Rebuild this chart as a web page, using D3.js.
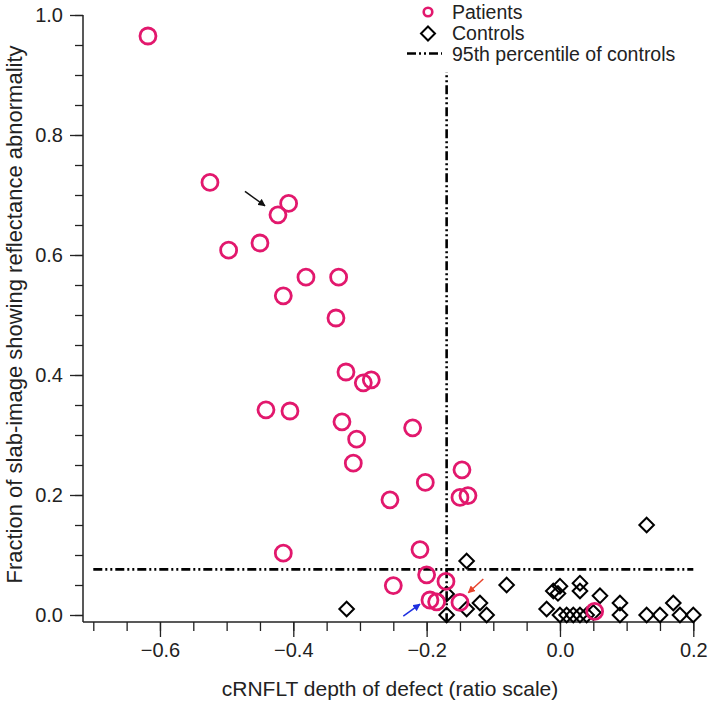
<!DOCTYPE html>
<html>
<head>
<meta charset="utf-8">
<script src="https://cdn.jsdelivr.net/npm/d3@7"></script>
<style>
  body { margin: 0; background: #fff; }
  svg text { font-family: "Liberation Sans", Arial, sans-serif; fill: #222; }
</style>
</head>
<body>
<div id="chart"></div>
<script>
// Patients (circles)
const patientX = [-0.618, -0.525, -0.423, -0.407, -0.450, -0.497,
    -0.381, -0.332, -0.415, -0.336, -0.321, -0.295, -0.283,
    -0.441, -0.405, -0.327, -0.305, -0.310, -0.221, -0.202,
    -0.255, -0.147, -0.150, -0.138, -0.415, -0.210, -0.200,
    -0.250, -0.171, -0.195, -0.185, -0.150, 0.052];
const patientY = [0.965, 0.721, 0.667, 0.686, 0.620, 0.608,
    0.563, 0.563, 0.532, 0.495, 0.405, 0.387, 0.392,
    0.342, 0.340, 0.322, 0.293, 0.253, 0.312, 0.221,
    0.192, 0.242, 0.196, 0.199, 0.103, 0.109, 0.067,
    0.049, 0.056, 0.025, 0.022, 0.021, 0.006];

// Controls (diamonds)
const controlX = [-0.32, -0.17, -0.17, -0.14, -0.14, -0.12, -0.11, -0.08,
    -0.02, -0.01, -0.003, 0.0, 0.0, 0.01, 0.02, 0.03, 0.04, 0.05,
    0.03, 0.03, 0.06, 0.09, 0.09, 0.13, 0.13, 0.15, 0.17, 0.18, 0.2];
const controlY = [0.010, 0.000, 0.035, 0.090, 0.010, 0.020, 0.000, 0.050,
    0.010, 0.040, 0.036, 0.048, 0.000, 0.000, 0.000, 0.000, 0.000, 0.004,
    0.053, 0.040, 0.032, 0.020, 0.000, 0.000, 0.150, 0.000, 0.020, 0.000, 0.000];

// 95th percentile of controls
const cutoffX = -0.17;
const cutoffY = 0.076;
const cutoffVExtent = [-0.012, 0.905];
const cutoffHExtent = [-0.7, 0.2];

// annotation arrows, data units
const arrows = [
    { from: [-0.4725, 0.706], to: [-0.4425, 0.682], color: '#111' },
    { from: [-0.115, 0.060], to: [-0.1375, 0.037], color: '#e8432c' },
    { from: [-0.235, -0.002], to: [-0.21, 0.018], color: '#1d2fe0' }
];

const xMajor = [-0.6, -0.4, -0.2, 0.0, 0.2];
const yMajor = [0.0, 0.2, 0.4, 0.6, 0.8, 1.0];

const legendLabels = ['Patients', 'Controls', '95th percentile of controls'];

const W = 709, H = 702;
const pink = '#e2186d';
const dashDot = '9,3,2,3,2,3';

const svg = d3.select('#chart').append('svg')
    .attr('width', W)
    .attr('height', H);

const x = d3.scaleLinear().domain([-0.7, 0.2]).range([93.3, 693.3]);
const y = d3.scaleLinear().domain([0, 1]).range([615, 15]);

const axisY0 = 622;   // x axis line position
const axisX0 = 83;    // y axis line position
const fmt = d3.format('.1f');

// minor x ticks
const xMinor = d3.range(-0.7, 0.2001, 0.05).map(d => +d.toFixed(2));
svg.append('g')
    .attr('transform', `translate(0,${axisY0})`)
    .call(d3.axisBottom(x).tickValues(xMinor).tickSize(9).tickFormat(''))
    .call(g => g.select('.domain').remove())
    .call(g => g.selectAll('line').attr('stroke', '#222').attr('stroke-width', 1.3));

// major x ticks
svg.append('g')
    .attr('transform', `translate(0,${axisY0})`)
    .call(d3.axisBottom(x).tickValues(xMajor).tickSize(15).tickPadding(6).tickFormat(fmt))
    .call(g => g.select('.domain').remove())
    .call(g => g.selectAll('line').attr('stroke', '#222').attr('stroke-width', 1.3))
    .call(g => g.selectAll('text').style('font-size', '20px').attr('fill', '#222'));

// minor y ticks
const yMinor = d3.range(0, 1.0001, 0.05).map(d => +d.toFixed(2));
svg.append('g')
    .attr('transform', `translate(${axisX0},0)`)
    .call(d3.axisLeft(y).tickValues(yMinor).tickSize(8).tickFormat(''))
    .call(g => g.select('.domain').remove())
    .call(g => g.selectAll('line').attr('stroke', '#222').attr('stroke-width', 1.3));

// major y ticks
svg.append('g')
    .attr('transform', `translate(${axisX0},0)`)
    .call(d3.axisLeft(y).tickValues(yMajor).tickSize(13).tickPadding(7).tickFormat(fmt))
    .call(g => g.select('.domain').remove())
    .call(g => g.selectAll('line').attr('stroke', '#222').attr('stroke-width', 1.3))
    .call(g => g.selectAll('text').style('font-size', '20px').attr('fill', '#222'));

// axis lines
svg.append('line')
    .attr('x1', axisX0).attr('x2', x(0.2))
    .attr('y1', axisY0).attr('y2', axisY0)
    .attr('stroke', '#222').attr('stroke-width', 1.5);
svg.append('line')
    .attr('x1', axisX0).attr('x2', axisX0)
    .attr('y1', y(1)).attr('y2', axisY0)
    .attr('stroke', '#222').attr('stroke-width', 1.5);

// axis titles
svg.append('text')
    .attr('x', 390)
    .attr('y', 696)
    .attr('text-anchor', 'middle')
    .style('font-size', '21px')
    .text('cRNFLT depth of defect (ratio scale)');

svg.append('text')
    .attr('transform', `translate(22,${(y(1) + axisY0) / 2 - 4}) rotate(-90)`)
    .attr('text-anchor', 'middle')
    .style('font-size', '22px')
    .text('Fraction of slab-image showing reflectance abnormality');

// cutoff lines
svg.append('line')
    .attr('x1', x(cutoffHExtent[0])).attr('x2', x(cutoffHExtent[1]))
    .attr('y1', y(cutoffY)).attr('y2', y(cutoffY))
    .attr('stroke', '#000').attr('stroke-width', 2.6)
    .attr('stroke-dasharray', dashDot);
svg.append('line')
    .attr('x1', x(cutoffX)).attr('x2', x(cutoffX))
    .attr('y1', y(cutoffVExtent[0])).attr('y2', y(cutoffVExtent[1]))
    .attr('stroke', '#000').attr('stroke-width', 2.6)
    .attr('stroke-dasharray', dashDot);

// controls
const diamond = s => `M0,${-s}L${s},0L0,${s}L${-s},0Z`;
svg.append('g').selectAll('path')
    .data(controlX.map((d, i) => ({ x: d, y: controlY[i] })))
    .join('path')
    .attr('transform', d => `translate(${x(d.x)},${y(d.y)})`)
    .attr('d', diamond(7.3))
    .attr('fill', 'none')
    .attr('stroke', '#000')
    .attr('stroke-width', 2);

// patients
svg.append('g').selectAll('circle')
    .data(patientX.map((d, i) => ({ x: d, y: patientY[i] })))
    .join('circle')
    .attr('cx', d => x(d.x))
    .attr('cy', d => y(d.y))
    .attr('r', 8)
    .attr('fill', 'none')
    .attr('stroke', pink)
    .attr('stroke-width', 2.8);

// arrows
const defs = svg.append('defs');
arrows.forEach((a, i) => {
    defs.append('marker')
        .attr('id', 'arrow' + i)
        .attr('viewBox', '0 0 10 10')
        .attr('refX', 9).attr('refY', 5)
        .attr('markerWidth', 5).attr('markerHeight', 5)
        .attr('orient', 'auto')
        .append('path')
        .attr('d', 'M0,0L10,5L0,10Z')
        .attr('fill', a.color);
    svg.append('line')
        .attr('x1', x(a.from[0])).attr('y1', y(a.from[1]))
        .attr('x2', x(a.to[0])).attr('y2', y(a.to[1]))
        .attr('stroke', a.color)
        .attr('stroke-width', 1.5)
        .attr('marker-end', `url(#arrow${i})`);
});

// legend
const legend = svg.append('g').attr('transform', 'translate(428,12)');
legend.append('circle')
    .attr('cx', 0).attr('cy', 0).attr('r', 4.3)
    .attr('fill', 'none').attr('stroke', pink).attr('stroke-width', 2.6);
legend.append('path')
    .attr('transform', 'translate(0,21.5)')
    .attr('d', diamond(7))
    .attr('fill', 'none').attr('stroke', '#000').attr('stroke-width', 2);
legend.append('line')
    .attr('x1', -21).attr('x2', 14)
    .attr('y1', 41.5).attr('y2', 41.5)
    .attr('stroke', '#000').attr('stroke-width', 2.6)
    .attr('stroke-dasharray', dashDot);
legendLabels.forEach((t, i) => {
    legend.append('text')
        .attr('x', 24)
        .attr('y', i * 21)
        .attr('dy', '0.35em')
        .style('font-size', '19.5px')
        .text(t);
});
</script>
</body>
</html>
